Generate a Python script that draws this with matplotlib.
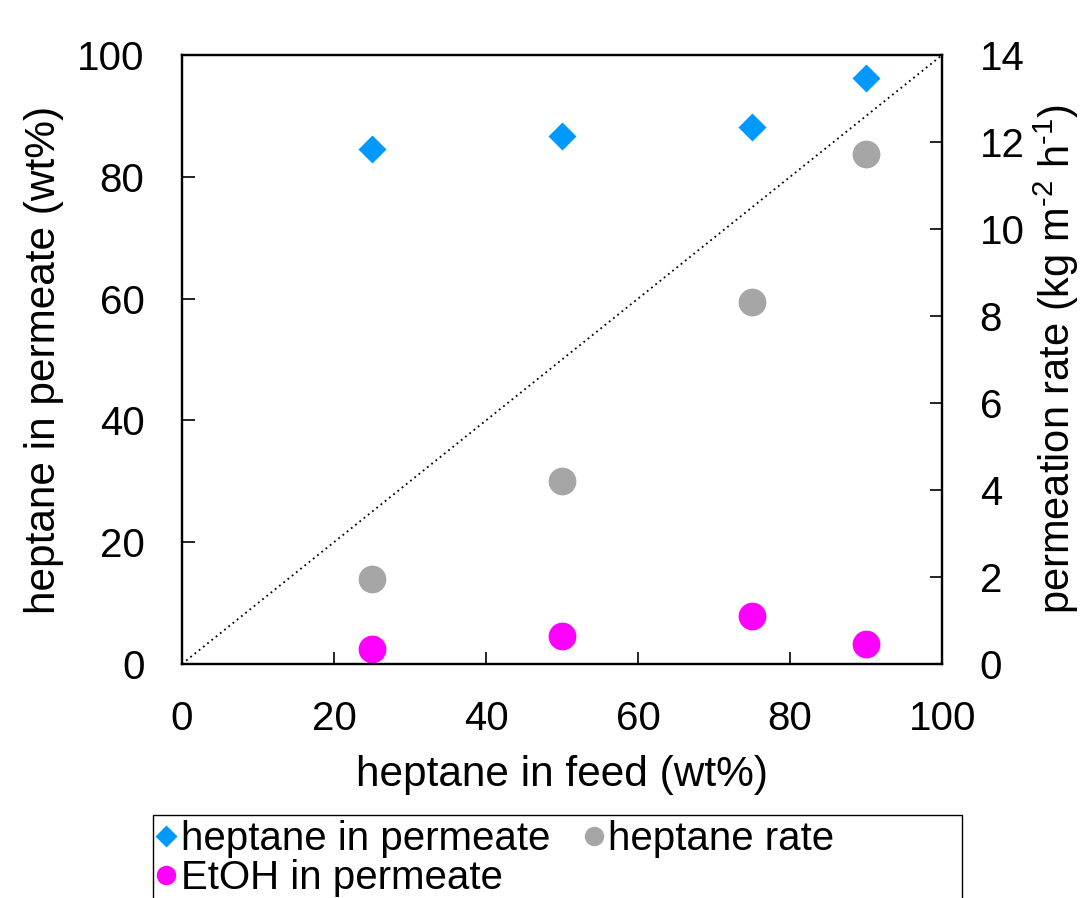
import numpy as np
import matplotlib
matplotlib.use('Agg')
import matplotlib.pyplot as plt
from matplotlib.lines import Line2D
from matplotlib.patches import Rectangle

plt.rcParams['font.family'] = ['Liberation Sans', 'DejaVu Sans']
plt.rcParams['mathtext.fontset'] = 'custom'
plt.rcParams['mathtext.rm'] = 'Liberation Sans'
plt.rcParams['mathtext.it'] = 'Liberation Sans'

# data
feed = [25, 50, 75, 90]
heptane_permeate = [84.6, 86.7, 88.2, 96.2]   # wt%, left axis
heptane_rate = [1.95, 4.21, 8.32, 11.72]       # kg m-2 h-1, right axis
etoh_rate = [0.34, 0.64, 1.10, 0.46]           # kg m-2 h-1, right axis

blue = '#0099FF'
grey = '#A6A6A6'
magenta = '#FF00FF'
fs = 29
lfs = 30.5

fig = plt.figure(figsize=(10.83, 8.98), dpi=100)
ax = fig.add_axes([0.168, 0.2606, 0.702, 0.6782])
ax2 = ax.twinx()

ax.plot([0, 100], [0, 100], color='black', linestyle=(0, (1, 2)), linewidth=1.3)
ax.plot(feed, heptane_permeate, linestyle='none', marker='D', ms=14,
        color=blue, mec='none', zorder=5)
ax2.plot(feed, heptane_rate, linestyle='none', marker='o', ms=20,
         color=grey, mec='none')
ax2.plot(feed, etoh_rate, linestyle='none', marker='o', ms=20,
         color=magenta, mec='none')

ax.set_xlim(0, 100)
ax.set_ylim(0, 100)
ax2.set_ylim(0, 14)
ax.set_xticks(range(0, 101, 20))
ax.set_yticks(range(0, 101, 20))
ax2.set_yticks(range(0, 15, 2))

for a in (ax, ax2):
    a.tick_params(direction='in', length=9, width=1.2, labelsize=fs, pad=27)
    for s in a.spines.values():
        s.set_linewidth(1.6)
ax.tick_params(axis='x', pad=26)

ax.set_xlabel('heptane in feed (wt%)', fontsize=lfs, labelpad=12)
ax.set_ylabel('heptane in permeate (wt%)', fontsize=lfs, labelpad=9)
ax2.set_ylabel(r'permeation rate (kg m$^{\text{-2}}$ h$^{\text{-1}}$)',
               fontsize=30, labelpad=5, rotation=90)

handles = [
    Line2D([], [], linestyle='none', marker='D', ms=11, color=blue, mec='none'),
    Line2D([], [], linestyle='none', marker='o', ms=14, color=magenta, mec='none'),
    Line2D([], [], linestyle='none', marker='o', ms=14, color=grey, mec='none'),
]
labels = ['heptane in permeate', 'EtOH in permeate', 'heptane rate']
leg = fig.legend(handles, labels, ncol=2, fontsize=fs, loc='upper left',
                 bbox_to_anchor=(0.137, 0.0955), frameon=False,
                 handlelength=0.5, handletextpad=0.1, borderpad=0.1,
                 labelspacing=0.02, columnspacing=0.85, borderaxespad=0.1)

fig.patches.append(Rectangle((0.141, -0.01), 0.747, 0.1024,
                             transform=fig.transFigure, fill=False,
                             edgecolor='black', linewidth=1.0))

fig.savefig('out.png', dpi=100)
